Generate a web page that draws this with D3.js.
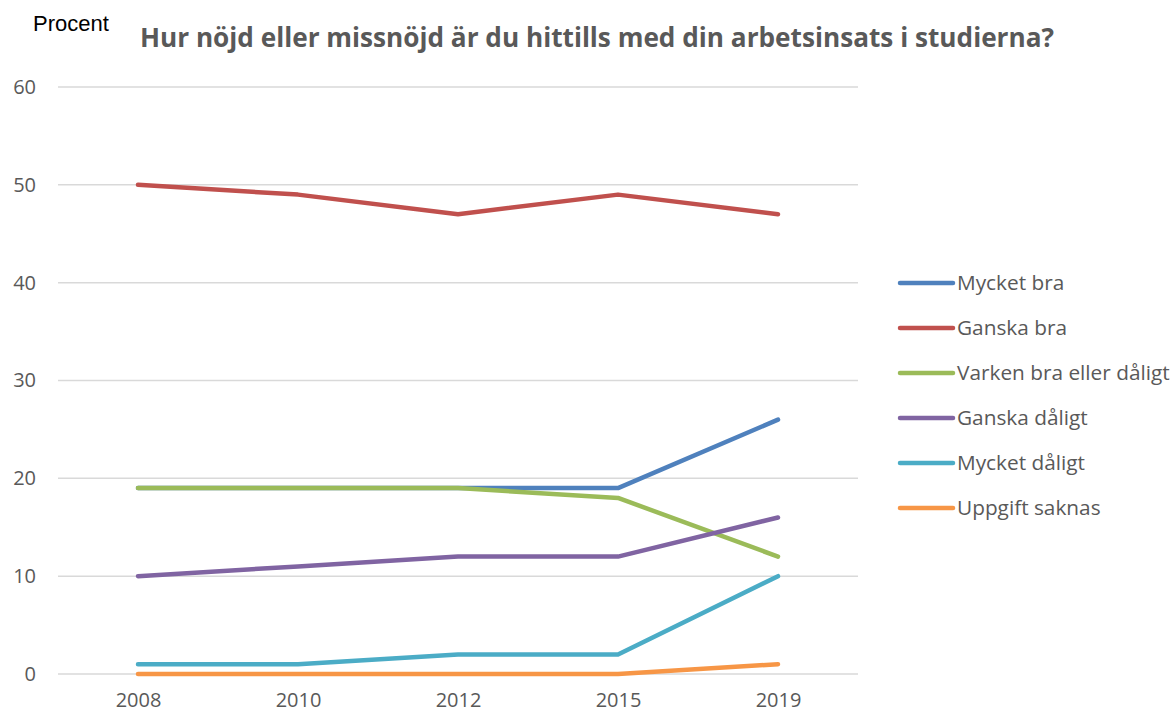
<!DOCTYPE html>
<html>
<head>
<meta charset="utf-8">
<script src="https://cdn.jsdelivr.net/npm/d3@7"></script>
<style>
body{margin:0;background:#fff;}
</style>
</head>
<body>
<div class="chart"></div>
<script>
var years=['2008','2010','2012','2015','2019'];
var seriesNames=['Mycket bra','Ganska bra','Varken bra eller dåligt','Ganska dåligt','Mycket dåligt','Uppgift saknas'];
var mycketBra=[19,19,19,19,26];
var ganskaBra=[50,49,47,49,47];
var varken=[19,19,19,18,12];
var ganskaDaligt=[10,11,12,12,16];
var mycketDaligt=[1,1,2,2,10];
var uppgiftSaknas=[0,0,0,0,1];
var yTicks=[0,10,20,30,40,50,60];
var colors=['#4F81BD','#C0504D','#9BBB59','#8064A2','#4BACC6','#F79646'];

var allSeries=[mycketBra,ganskaBra,varken,ganskaDaligt,mycketDaligt,uppgiftSaknas];

var width=1175,height=716;
var svg=d3.select('div.chart')
	.append('svg')
	.attr('width',width)
	.attr('height',height);

var x=d3.scalePoint()
	.domain(years)
	.range([58,858])
	.padding(0.5);
var y=d3.scaleLinear()
	.domain([0,60])
	.range([674,87]);

//网格线
svg.append('g')
	.selectAll('line')
	.data(yTicks)
	.enter()
	.append('line')
	.attr('x1',58)
	.attr('x2',858)
	.attr('y1',function(d){return y(d);})
	.attr('y2',function(d){return y(d);})
	.attr('stroke','#d9d9d9')
	.attr('stroke-width',1.5);

//y轴
var yAxis=svg.append('g')
	.attr('transform','translate(36,0)')
	.call(d3.axisLeft(y).tickValues(yTicks).tickSize(0).tickPadding(0));
yAxis.select('.domain').remove();
yAxis.selectAll('text')
	.attr('text-anchor','end')
	.style('font-family','Open Sans, sans-serif')
	.style('font-size','20px')
	.attr('fill','#595959');

//x轴
var xAxis=svg.append('g')
	.attr('transform','translate(0,693)')
	.call(d3.axisBottom(x).tickSize(0).tickPadding(0));
xAxis.select('.domain').remove();
xAxis.selectAll('text')
	.attr('dy','0.7em')
	.style('font-family','Open Sans, sans-serif')
	.style('font-size','20px')
	.attr('fill','#595959');

var line=d3.line()
	.x(function(d,i){return x(years[i]);})
	.y(function(d){return y(d);});

svg.append('g')
	.selectAll('path')
	.data(allSeries)
	.enter()
	.append('path')
	.attr('d',line)
	.attr('fill','none')
	.attr('stroke',function(d,i){return colors[i];})
	.attr('stroke-width',4.5)
	.attr('stroke-linecap','round')
	.attr('stroke-linejoin','round');

//图例
var legend=svg.append('g')
	.selectAll('g')
	.data(seriesNames)
	.enter()
	.append('g')
	.attr('transform',function(d,i){return 'translate(900,'+(283+i*45)+')';});
legend.append('line')
	.attr('x1',0)
	.attr('x2',53)
	.attr('stroke',function(d,i){return colors[i];})
	.attr('stroke-width',4.5)
	.attr('stroke-linecap','round');
legend.append('text')
	.attr('x',57)
	.attr('dy','0.35em')
	.text(function(d){return d;})
	.style('font-family','Open Sans, sans-serif')
	.style('font-size','20.8px')
	.attr('fill','#595959');

svg.append('text')
	.attr('x',33)
	.attr('y',31)
	.text('Procent')
	.style('font-family','Liberation Sans, Arial, sans-serif')
	.style('font-size','22px')
	.attr('fill','#000');

svg.append('text')
	.attr('x',597)
	.attr('y',47)
	.attr('text-anchor','middle')
	.text('Hur nöjd eller missnöjd är du hittills med din arbetsinsats i studierna?')
	.style('font-family','Open Sans, sans-serif')
	.style('font-weight','bold')
	.style('font-size','26.2px')
	.attr('fill','#595959');
</script>
</body>
</html>
